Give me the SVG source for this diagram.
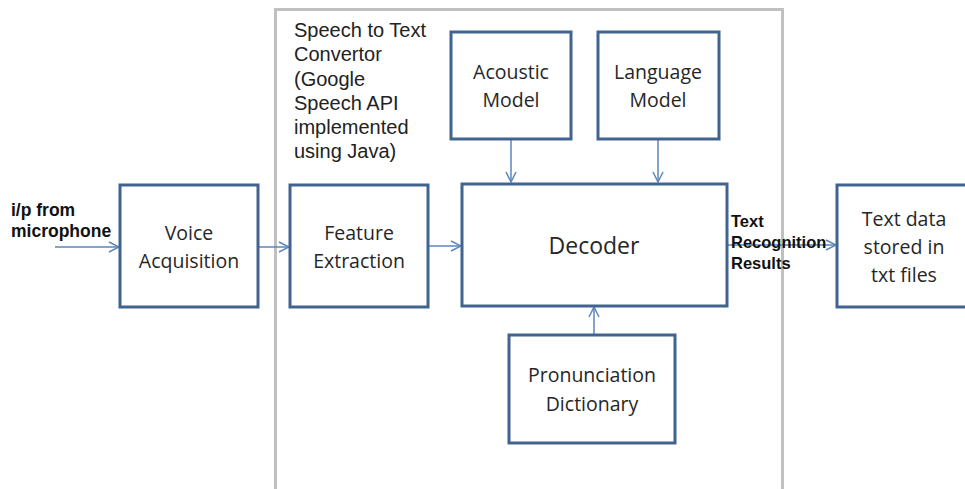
<svg xmlns="http://www.w3.org/2000/svg" width="965" height="489" viewBox="0 0 965 489">
<defs>
<marker id="ah" viewBox="0 0 12 12" refX="11" refY="6" markerWidth="12" markerHeight="12" markerUnits="userSpaceOnUse" orient="auto">
<path d="M1,1 L11,6 L1,11" fill="none" stroke="#5b86bf" stroke-width="1.5"/>
</marker>
</defs>
<style>
.box{fill:#fff;stroke:#41638f;stroke-width:3}
.lbl{font-family:"Open Sans","Liberation Sans",sans-serif;font-size:19.5px;fill:#262626;text-anchor:middle}
.bold{font-family:"Liberation Sans",Arial,sans-serif;font-size:16.5px;font-weight:bold;fill:#111}
.note{font-family:"Liberation Sans",Arial,sans-serif;font-size:20px;fill:#222}
.con{fill:none;stroke:#5b86bf;stroke-width:1.5;marker-end:url(#ah)}
</style>
<rect width="965" height="489" fill="#fff"/>
<g id="container">
<rect x="275.5" y="9.5" width="507" height="490" fill="none" stroke="#c0c0c0" stroke-width="3"/>
<text class="note" x="294" y="37">Speech to Text</text>
<text class="note" x="294" y="61">Convertor</text>
<text class="note" x="294" y="86">(Google</text>
<text class="note" x="294" y="110">Speech API</text>
<text class="note" x="294" y="134">implemented</text>
<text class="note" x="294" y="158">using Java)</text>
</g>
<g id="connectors">
<line class="con" x1="55" y1="247" x2="119" y2="247"/>
<line class="con" x1="258" y1="247" x2="289" y2="247"/>
<line class="con" x1="428" y1="246" x2="461" y2="246"/>
<line class="con" x1="511" y1="139" x2="511" y2="182"/>
<line class="con" x1="658" y1="139" x2="658" y2="182"/>
<line class="con" x1="594" y1="335" x2="594" y2="307"/>
<line class="con" x1="727" y1="245" x2="836" y2="245"/>
</g>
<g id="input-label">
<text class="bold" x="11" y="216" style="font-size:17.5px">i/p  from</text>
<text class="bold" x="11" y="237" style="font-size:17.5px">microphone</text>
</g>
<g id="voice">
<rect class="box" x="120" y="185" width="138" height="122"/>
<text class="lbl" x="189" y="240">Voice</text>
<text class="lbl" x="189" y="268">Acquisition</text>
</g>
<g id="feature">
<rect class="box" x="290" y="185" width="138" height="122"/>
<text class="lbl" x="359" y="240">Feature</text>
<text class="lbl" x="359" y="268">Extraction</text>
</g>
<g id="decoder">
<rect class="box" x="462" y="184" width="265" height="122"/>
<text class="lbl" x="594" y="254" style="font-size:23px">Decoder</text>
</g>
<g id="acoustic">
<rect class="box" x="451" y="32" width="120" height="107"/>
<text class="lbl" x="511" y="79">Acoustic</text>
<text class="lbl" x="511" y="107">Model</text>
</g>
<g id="language">
<rect class="box" x="598" y="32" width="121" height="107"/>
<text class="lbl" x="658" y="79">Language</text>
<text class="lbl" x="658" y="107">Model</text>
</g>
<g id="pronunciation">
<rect class="box" x="509" y="335" width="166" height="108"/>
<text class="lbl" x="592" y="382">Pronunciation</text>
<text class="lbl" x="592" y="411">Dictionary</text>
</g>
<g id="results-label">
<text class="bold" x="731" y="227">Text</text>
<text class="bold" x="731" y="248">Recognition</text>
<text class="bold" x="731" y="269">Results</text>
</g>
<g id="textdata">
<rect class="box" x="837" y="185" width="140" height="122"/>
<text class="lbl" x="904" y="226">Text data</text>
<text class="lbl" x="904" y="254">stored in</text>
<text class="lbl" x="904" y="282">txt files</text>
</g>
</svg>
